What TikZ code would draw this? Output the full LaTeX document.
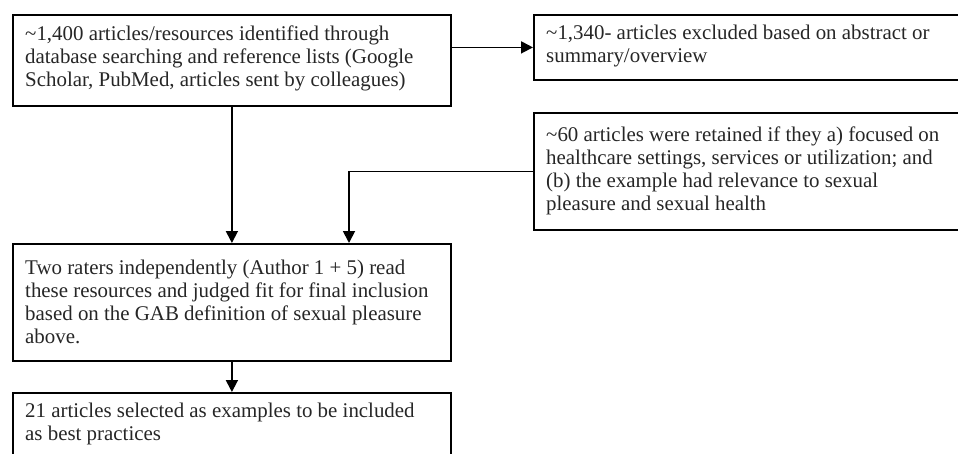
\documentclass[tikz,border=0pt]{standalone}
\usepackage{fontspec}
\setmainfont{Liberation Serif}
\usetikzlibrary{arrows.meta,calc}
\begin{document}
\begin{tikzpicture}[x=1pt,y=-1pt,
  box/.style={draw, line width=1.8pt, anchor=north west, inner sep=0pt, minimum width=438pt},
  txt/.style={anchor=west, inner sep=0pt, align=left, text=black!85, font=\fontsize{20.9}{23}\selectfont},
  arr/.style={line width=1.8pt, -{Triangle[length=12pt,width=12pt]}}]
\useasboundingbox (0,0) rectangle (958,453);
\node[box, minimum height=91pt] (b1) at (12,14) {};
\node[box, minimum height=65pt] (b2) at (533,14) {};
\node[box, minimum height=117pt] (b3) at (533,112) {};
\node[box, minimum height=117pt] (b4) at (12,243) {};
\node[box, minimum height=67pt] (b5) at (12,392) {};
\node[txt] (t1) at ([xshift=13pt,yshift=2pt]b1.west) {\textasciitilde1,400 articles/resources identified through\\database searching and reference lists (Google\\Scholar, PubMed, articles sent by colleagues)};
\node[txt] (t2) at ([xshift=13pt,yshift=1pt]b2.west) {\textasciitilde1,340- articles excluded based on abstract or\\summary/overview};
\node[txt] (t3) at ([xshift=13pt,yshift=1pt]b3.west) {\textasciitilde60 articles were retained if they a) focused on\\healthcare settings, services or utilization; and\\(b) the example had relevance to sexual\\pleasure and sexual health};
\node[txt] (t4) at ([xshift=13pt,yshift=1pt]b4.west) {Two raters independently (Author 1 + 5) read\\these resources and judged fit for final inclusion\\based on the GAB definition of sexual pleasure\\above.};
\node[txt] (t5) at ([xshift=13pt,yshift=2pt]b5.west) {21 articles selected as examples to be included\\as best practices};
\coordinate (k) at (349,243);
\draw[arr] (b1.east |- b2.west) -- (b2.west);
\draw[arr] (b1.south) -- (b4.north);
\draw[arr] (b3.west) -| (k);
\draw[arr] (b4.south) -- (b5.north);
\end{tikzpicture}
\end{document}
